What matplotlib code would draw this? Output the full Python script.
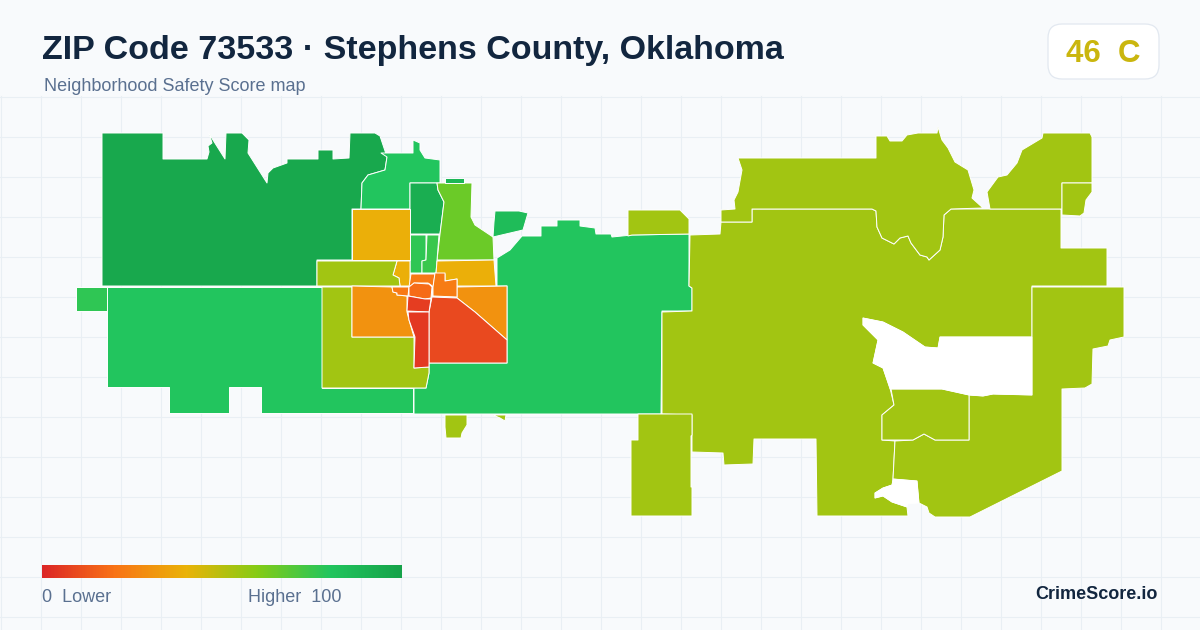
import matplotlib
matplotlib.use('Agg')
import matplotlib.pyplot as plt
import numpy as np
from matplotlib.colors import LinearSegmentedColormap
from matplotlib.patches import FancyBboxPatch, Polygon

plt.rcParams['font.family'] = ['Liberation Sans', 'DejaVu Sans']

title = 'ZIP Code 73533 · Stephens County, Oklahoma'
subtitle = 'Neighborhood Safety Score map'
score_label = '46  C'
brand = 'CrimeScore.io'

scale_colors = ['#dc2626', '#f97316', '#eab308', '#84cc16', '#22c55e', '#16a34a']

# outlines, x/y in picture pixels
nw_big = [(102,133),(163,133),(163,159),(207,159),(209,152),(208,146),(212,143),(209,133),(213,140),(225,159),(226,133),(242,133),(249,140),(248,153),(267,183),(268,173),(273,168),(287,163),(287,159),(318,159),(318,150),(333,150),(333,159),(349,158),(350,133),(375,133),(380,136),(387,157),(385,170),(368,175),(362,183),(361,209),(352,209),(352,260),(317,260),(317,286),(102,286)]
north = [(361,209),(362,183),(368,175),(385,170),(387,157),(381,153),(413,153),(413,140),(420,143),(420,150),(425,158),(440,160),(440,183),(410,183),(410,209)]
north_inner = [(410,183),(437,183),(438,190),(444,202),(440,234),(410,234)]
north_east = [(437,183),(472,183),(471,217),(475,225),(493,237),(494,260),(437,260),(440,234),(444,202),(438,190)]
tiny_top = [(445,178),(464,178),(464,183),(445,183)]
island = [(495,211),(519,211),(528,213),(523,230),(493,237),(494,222)]
strip_a = [(410,235),(426,235),(426,260),(422,261),(422,273),(410,273)]
strip_b = [(427,235),(439,235),(436,273),(422,273),(422,261),(426,260)]
amber_nw = [(352,209),(410,209),(410,260),(352,260)]
amber_small = [(397,261),(410,261),(410,286),(400,286),(399,278),(393,275),(395,268)]
olive_bar = [(317,261),(397,261),(395,268),(393,275),(399,278),(400,286),(317,286)]
amber_ne = [(437,261),(494,260),(496,286),(457,286),(457,279),(445,281),(445,274),(436,274)]
orange_top = [(411,274),(435,274),(433,287),(431,285),(428,283),(414,283),(412,285),(409,287)]
orange_right = [(435,273),(445,273),(445,281),(457,279),(457,297),(433,296),(433,287)]
orange_mid = [(414,283),(429,284),(432,287),(431,298),(425,299),(409,296),(409,287)]
orange_small = [(392,287),(409,287),(408,296),(397,295),(397,293),(393,292)]
orange_west = [(352,286),(392,287),(393,292),(397,293),(397,295),(407,296),(407,312),(409,320),(414,337),(352,337)]
orange_east = [(457,287),(507,286),(507,340),(475,312),(457,298)]
red_east = [(432,297),(457,298),(475,312),(507,340),(507,363),(429,363),(429,312)]
red_upper = [(408,296),(425,299),(431,299),(429,312),(407,311)]
red_lower = [(408,312),(429,312),(429,367),(414,368),(415,337),(409,320)]
olive_west = [(322,287),(352,287),(352,337),(414,337),(414,368),(429,367),(429,373),(426,388),(322,388)]
green_sw = [(107,287),(322,287),(322,388),(413,388),(413,413),(261,413),(261,387),(229,387),(229,413),(169,413),(169,387),(107,387)]
green_mid = [(414,388),(426,388),(429,373),(429,363),(507,363),(507,286),(497,286),(497,258),(510,250),(522,236),(541,236),(541,226),(557,226),(557,220),(580,220),(580,226),(595,228),(596,234),(611,234),(612,237),(632,235),(689,234),(689,286),(692,288),(692,311),(662,311),(661,414),(414,414)]
green_left = [(76,287),(107,287),(107,311),(76,311)]
south_a = [(445,415),(467,415),(467,425),(462,433),(461,438),(446,438),(445,427)]
south_b = [(493,415),(506,415),(505,421),(500,418)]
north_patch = [(628,210),(680,210),(689,219),(689,234),(632,235),(628,236)]
east_big = [(690,235),(720,234),(721,222),(752,222),(752,209),(872,209),(876,211),(877,227),(882,238),(894,244),(900,238),(908,236),(911,243),(920,255),(927,257),(929,260),(940,250),(943,237),(944,215),(951,209),(1061,209),(1061,248),(1107,248),(1107,286),(1032,286),(1032,337),(940,337),(938,348),(925,347),(903,332),(883,322),(863,318),(863,325),(878,340),(873,363),(883,368),(890,388),(894,405),(882,415),(882,440),(895,441),(893,480),(892,485),(883,488),(875,493),(875,498),(883,496),(892,502),(907,507),(908,516),(817,516),(816,439),(754,439),(753,464),(724,465),(723,453),(692,452),(692,415),(662,414),(662,312),(692,311),(692,288),(689,286)]
north_mid = [(721,222),(721,210),(735,209),(734,200),(738,192),(742,170),(738,158),(876,158),(876,136),(887,136),(890,141),(902,141),(907,135),(918,133),(937,133),(938,127),(942,140),(948,148),(955,162),(968,170),(974,190),(972,198),(983,208),(951,209),(944,215),(943,237),(940,250),(929,260),(927,257),(920,255),(911,243),(908,236),(900,238),(894,244),(882,238),(877,227),(876,211),(872,209),(752,209),(752,222)]
ne_piece = [(990,209),(987,192),(998,177),(1007,175),(1017,163),(1022,150),(1042,138),(1043,133),(1090,133),(1092,137),(1092,183),(1062,183),(1062,209)]
ne_small = [(1062,183),(1092,183),(1092,192),(1086,200),(1084,213),(1080,216),(1062,215)]
east_rect = [(1032,287),(1124,287),(1124,337),(1110,340),(1108,346),(1093,349),(1092,384),(1085,388),(1062,389),(1062,471),(970,517),(935,517),(929,513),(927,507),(919,503),(917,481),(893,479),(895,441),(913,440),(924,434),(935,440),(969,440),(969,395),(983,396),(993,394),(1032,395),(1032,337)]
mid_piece = [(891,389),(942,389),(969,395),(969,440),(935,440),(924,434),(913,440),(882,440),(882,415),(894,405)]
sw_piece = [(638,414),(692,414),(692,435),(691,436),(691,487),(692,487),(692,516),(631,516),(631,440),(638,440)]

# blank districts are white, not background
blank_hole = [(863,318),(883,322),(903,332),(925,347),(938,348),(940,337),(1032,337),(1032,395),(993,394),(983,396),(969,395),(942,389),(890,389),(883,368),(873,363),(878,340),(863,325)]
blank_bite = [(893,479),(917,481),(919,503),(908,504),(907,507),(892,502),(883,496),(875,498),(875,493),(883,488),(892,485)]

regions = [nw_big, north, north_inner, north_east, tiny_top, island, strip_a, strip_b, amber_nw, amber_small,
           olive_bar, amber_ne, green_sw, green_mid, green_left, olive_west, orange_west, orange_east, red_east,
           orange_top, orange_right, orange_small, orange_mid, red_upper, red_lower, south_a, south_b,
           north_patch, east_big, north_mid, ne_piece, ne_small, east_rect, mid_piece, sw_piece]
scores = [97, 80, 93, 65, 88, 85, 77, 75, 39, 39,
          54, 39, 80, 80, 77, 54, 30, 30, 9,
          22, 23, 22, 18, 6, 5, 54, 54,
          54, 54, 54, 54, 54, 54, 54, 54]

cmap = LinearSegmentedColormap.from_list('safety', scale_colors)

fig = plt.figure(figsize=(12, 6.3), dpi=100, facecolor='#f8fafc')
ax = fig.add_axes([0, 0, 1, 1])
ax.set_facecolor('#f8fafc')

for x in np.arange(0.5, 1200, 40):
	ax.plot([x, x], [96, 630], color='#e9eff4', lw=0.75, zorder=1)
for y in np.arange(96.5, 630, 40):
	ax.plot([0, 1200], [y, y], color='#e9eff4', lw=0.75, zorder=1)

for outline, score in zip(regions, scores):
	ax.add_patch(Polygon(outline, closed=True, facecolor=cmap(score / 100), edgecolor='white', lw=0.7, joinstyle='round', zorder=2))
for outline in [blank_hole, blank_bite]:
	ax.add_patch(Polygon(outline, closed=True, facecolor='white', edgecolor='white', lw=0.5, zorder=3))

ax.text(42, 59, title, fontsize=24.45, fontweight='bold', color='#12263f', zorder=5)
ax.text(44, 91, subtitle, fontsize=13, color='#5a7090', zorder=5)

badge = FancyBboxPatch((1062, 38), 83, 27, boxstyle='round,pad=14,rounding_size=14', facecolor='white', edgecolor='#e2e8f0', lw=0.9, zorder=4)
ax.add_patch(badge)
ax.text(1103, 62, score_label, fontsize=22.5, fontweight='bold', color='#cab60e', ha='center', zorder=5)

ax.imshow(np.linspace(0, 1, 360).reshape(1, -1), cmap=cmap, extent=(42, 402, 578, 565), aspect='auto', zorder=4)
ax.text(42, 602, '0  Lower', fontsize=13, color='#5a7090', zorder=5)
ax.text(342, 602, 'Higher  100', fontsize=13, color='#5a7090', ha='right', zorder=5)
ax.text(1158, 599, brand, fontsize=13, fontweight='bold', color='#12263f', ha='right', zorder=5)

ax.set_xlim(0, 1200)
ax.set_ylim(630, 0)
ax.axis('off')

fig.savefig('out.png', dpi=100, facecolor=fig.get_facecolor())
